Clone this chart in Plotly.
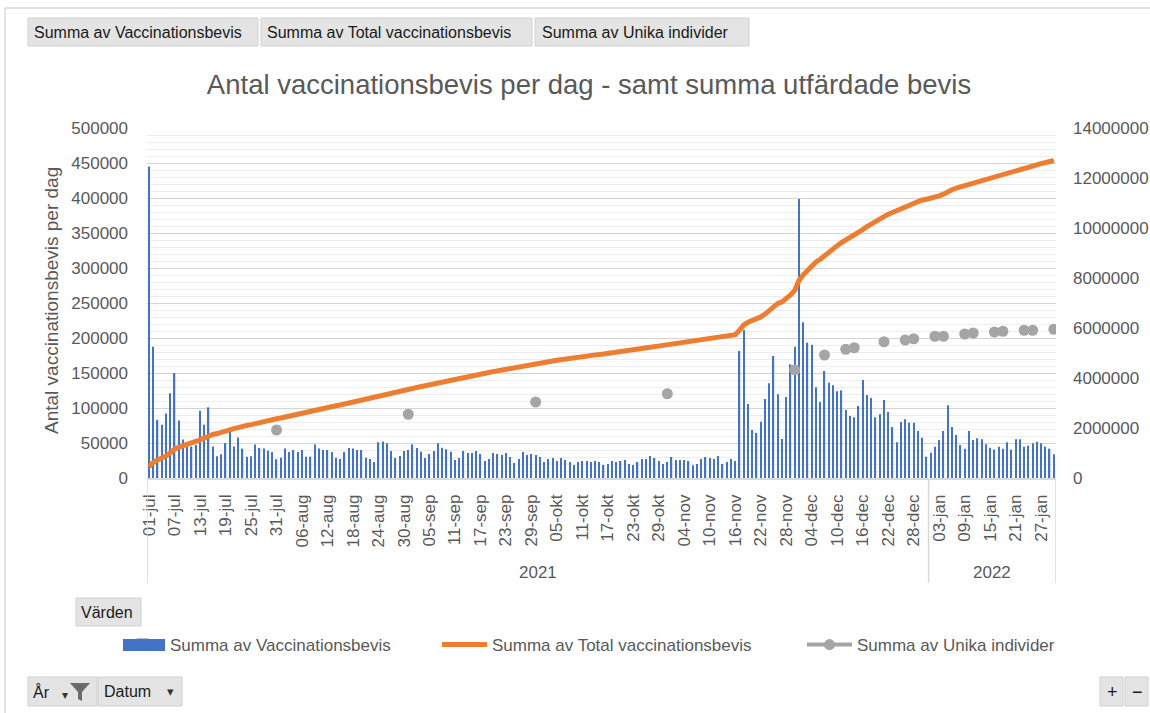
import pandas as pd
import plotly.graph_objects as go

# ---------------- data ----------------
sv_months = {1: "jan", 7: "jul", 8: "aug", 9: "sep", 10: "okt", 11: "nov", 12: "dec"}
day_index = pd.date_range("2021-07-01", "2022-01-30", freq="D")
dates = [f"{d.day:02d}-{sv_months[d.month]}" for d in day_index]
years = [str(d.year) for d in day_index]

vaccinationsbevis = [
    445000, 187500, 83000, 76000, 92000, 121000, 150000, 82000, 55000, 45000,
    45000, 47000, 96000, 76000, 101000, 45000, 31000, 34000, 50000, 66000,
    45000, 58000, 42000, 30500, 31000, 48000, 43000, 42000, 39000, 37000,
    27000, 29000, 42000, 37000, 40000, 37000, 40000, 30500, 30500, 48000,
    42000, 40000, 40000, 37000, 29000, 27000, 37000, 43000, 42000, 40000,
    40000, 29000, 27000, 23000, 51000,
    52000, 49500, 38600, 28600, 31400, 38600, 40000, 48000, 43000, 37600,
    28600, 34300, 38600, 49500, 43300, 41000, 37600, 25700, 28600, 38600,
    35700, 35700, 38600, 34300, 24300, 27100, 35700, 34300, 32900, 35700,
    30000, 21400, 27100, 37100, 32900, 34300, 32900, 30000, 22900, 27100,
    28600, 24300, 28600, 25700, 22900, 18600, 22900, 24300, 24300, 22900,
    24300, 22900, 18600, 20000, 24300, 22900, 24300, 25700, 20000, 18600,
    22900, 27100, 27100, 31400, 28600, 24300, 20000, 22900, 30000, 25700,
    25700, 25700, 24300, 18100, 20000, 27100, 30000, 28600, 27100, 31400,
    20000, 22900, 27100, 24300, 181400, 211400, 105700, 68600, 64300, 80500,
    112900, 135200, 174300, 119500, 55700, 115700, 162400, 187600, 398600, 222400,
    193300, 190500, 129500, 108600, 152900, 136200, 132400, 123800, 125200, 97100,
    88600, 86700, 102900, 140000, 118600, 114300, 86700, 91000, 111400, 94300,
    72900, 51000, 80000, 83800, 79000, 79000, 67100, 57600, 30500, 36200,
    44800, 54300, 67100, 103800, 72900, 61400, 47100, 41900, 67100, 54300,
    56700, 55200, 48100, 43300, 40500, 44800, 41900, 51000, 40500, 55200,
    55200, 44800, 46200, 49500, 51900, 49500, 44800, 41900, 33800,
]

total_vaccinationsbevis = [
    445000, 632500, 715500, 791500, 883500, 1004500, 1154500, 1236500, 1291500, 1336500,
    1381500, 1428500, 1524500, 1600500, 1701500, 1746500, 1777500, 1811500, 1861500, 1927500,
    1972500, 2030500, 2072500, 2103000, 2134000, 2182000, 2225000, 2267000, 2306000, 2343000,
    2370000, 2399000, 2441000, 2478000, 2518000, 2555000, 2595000, 2625500, 2656000, 2704000,
    2746000, 2786000, 2826000, 2863000, 2892000, 2919000, 2956000, 2999000, 3041000, 3081000,
    3121000, 3150000, 3177000, 3200000, 3251000,
    3303000, 3352500, 3391100, 3419700, 3451100, 3489700, 3529700, 3577700, 3620700, 3658300,
    3686900, 3721200, 3759800, 3809300, 3852600, 3893600, 3931200, 3956900, 3985500, 4024100,
    4059800, 4095500, 4134100, 4168400, 4192700, 4219800, 4255500, 4289800, 4322700, 4358400,
    4388400, 4409800, 4436900, 4474000, 4506900, 4541200, 4574100, 4604100, 4627000, 4654100,
    4682700, 4707000, 4735600, 4761300, 4784200, 4802800, 4825700, 4850000, 4874300, 4897200,
    4921500, 4944400, 4963000, 4983000, 5007300, 5030200, 5054500, 5080200, 5100200, 5118800,
    5141700, 5168800, 5195900, 5227300, 5255900, 5280200, 5300200, 5323100, 5353100, 5378800,
    5404500, 5430200, 5454500, 5472600, 5492600, 5519700, 5549700, 5578300, 5605400, 5636800,
    5656800, 5679700, 5706800, 5731100, 5912500, 6123900, 6229600, 6298200, 6362500, 6443000,
    6555900, 6691100, 6865400, 6984900, 7040600, 7156300, 7318700, 7506300, 7904900, 8127300,
    8320600, 8511100, 8640600, 8749200, 8902100, 9038300, 9170700, 9294500, 9419700, 9516800,
    9605400, 9692100, 9795000, 9935000, 10053600, 10167900, 10254600, 10345600, 10457000, 10551300,
    10624200, 10675200, 10755200, 10839000, 10918000, 10997000, 11064100, 11121700, 11152200, 11188400,
    11233200, 11287500, 11354600, 11458400, 11531300, 11592700, 11639800, 11681700, 11748800, 11803100,
    11859800, 11915000, 11963100, 12006400, 12046900, 12091700, 12133600, 12184600, 12225100, 12280300,
    12335500, 12380300, 12426500, 12476000, 12527900, 12577400, 12622200, 12664100, 12697900,
]

unika_dates = ["31-jul", "31-aug", "30-sep", "31-okt", "30-nov", "07-dec", "12-dec", "14-dec",
               "21-dec", "26-dec", "28-dec", "02-jan", "04-jan", "09-jan", "11-jan", "16-jan",
               "18-jan", "23-jan", "25-jan", "30-jan"]
unika_values = [1920000, 2550000, 3040000, 3370000, 4330000, 4920000, 5150000, 5210000,
                5450000, 5520000, 5570000, 5670000, 5670000, 5760000, 5800000, 5840000,
                5870000, 5910000, 5910000, 5950000]

left_ticks = [0, 50000, 100000, 150000, 200000, 250000, 300000, 350000, 400000, 450000, 500000]
right_ticks = [0, 2000000, 4000000, 6000000, 8000000, 10000000, 12000000, 14000000]
x_tick_labels = dates[::6]

# ---------------- styling helpers ----------------
W, H = 1150, 713
L, R, T, B = 147, 1056, 128, 478
FONT = "Liberation Sans, Arial, sans-serif"
GREY = "#595959"
BLUE = "#4472C4"


def px(x):
    return (x - L) / (R - L)


def py(y):
    return (B - y) / (B - T)


unika_map = dict(zip(unika_dates, unika_values))
unika_series = [unika_map.get(d) for d in dates]

fig = go.Figure()
fig.add_trace(go.Bar(
    x=dates, y=vaccinationsbevis, name="Summa av Vaccinationsbevis",
    marker=dict(color=BLUE, line=dict(width=0)), legend="legend2", showlegend=True,
))
fig.add_trace(go.Scatter(
    x=dates, y=total_vaccinationsbevis, name="Summa av Total vaccinationsbevis",
    mode="lines", line=dict(color="#ED7D31", width=5), yaxis="y2", legend="legend3", showlegend=True,
))
fig.add_trace(go.Scatter(
    x=dates, y=unika_series, name="Summa av Unika individer",
    mode="lines+markers", connectgaps=False,
    line=dict(color="#A5A5A5", width=4), marker=dict(color="#A5A5A5", size=11),
    yaxis="y2", legend="legend4", showlegend=True,
))

shapes = []
annotations = []

# chart border (top and left)
shapes.append(dict(type="line", xref="paper", yref="paper", x0=px(5), x1=px(1150), y0=py(8), y1=py(8),
                   line=dict(color="#d9d9d9", width=1.5)))
shapes.append(dict(type="line", xref="paper", yref="paper", x0=px(5), x1=px(5), y0=py(8), y1=py(713),
                   line=dict(color="#d9d9d9", width=1.5)))


def button(x0, y0, x1, y1, text=None, tx=None, size=16):
    shapes.append(dict(type="rect", xref="paper", yref="paper", x0=px(x0), x1=px(x1), y0=py(y1), y1=py(y0),
                       fillcolor="#e4e4e4", line=dict(color="#d0d0d0", width=1), layer="above"))
    if text is not None:
        annotations.append(dict(xref="paper", yref="paper", x=px(tx), y=py((y0 + y1) / 2), text=text,
                                showarrow=False, xanchor="left", yanchor="middle",
                                font=dict(family=FONT, size=size, color="#1a1a1a")))


button(28, 18, 258, 46, "Summa av Vaccinationsbevis", 32)
button(261, 18, 532, 46, "Summa av Total vaccinationsbevis", 265)
button(535, 18, 749, 46, "Summa av Unika individer", 540)
button(76, 598, 141, 626, "Värden", 79)
button(28, 677, 97, 706, "År", 31)
button(98, 677, 182, 706, "Datum", 102)
button(1100, 677, 1123, 706, "+", 1105, 18)
button(1125, 677, 1148, 706, "−", 1130, 18)
# small dropdown arrows and funnel
annotations.append(dict(xref="paper", yref="paper", x=px(60), y=py(695), text="▾", showarrow=False,
                        xanchor="left", yanchor="middle", font=dict(family=FONT, size=12, color="#333")))
shapes.append(dict(type="path", xref="paper", yref="paper",
                   path=f"M {px(70)},{py(683)} L {px(90)},{py(683)} L {px(82)},{py(692)} L {px(82)},{py(701)} "
                        f"L {px(78)},{py(699)} L {px(78)},{py(692)} Z",
                   fillcolor="#6b6b6b", line=dict(width=0), layer="above"))
annotations.append(dict(xref="paper", yref="paper", x=px(165), y=py(691), text="▾", showarrow=False,
                        xanchor="left", yanchor="middle", font=dict(family=FONT, size=13, color="#333")))

# wide legend key for the bar series (Excel style)
shapes.append(dict(type="rect", xref="paper", yref="paper", x0=px(123), x1=px(165), y0=py(651), y1=py(639),
                   fillcolor=BLUE, line=dict(width=0), layer="above"))

# year level of the category axis
first_2022 = years.index("2022")
n = len(dates)
for xb in [-0.5, first_2022 - 0.5, n - 0.5]:
    shapes.append(dict(type="line", xref="x", yref="paper", x0=xb, x1=xb, y0=0, y1=py(583),
                       line=dict(color="#d9d9d9", width=1.5)))
for yr, a, b in [("2021", 0, first_2022 - 1), ("2022", first_2022, n - 1)]:
    annotations.append(dict(xref="x", yref="paper", x=(a + b) / 2, y=py(572), text=yr, showarrow=False,
                            xanchor="center", yanchor="middle", font=dict(family=FONT, size=17, color=GREY)))

# y axis title
annotations.append(dict(xref="paper", yref="paper", x=px(51), y=py(301), text="Antal vaccinationsbevis per dag",
                        textangle=-90, showarrow=False, xanchor="center", yanchor="middle",
                        font=dict(family=FONT, size=19, color=GREY)))

legend_common = dict(orientation="h", xref="paper", yref="paper", yanchor="middle", xanchor="left",
                     bgcolor="rgba(0,0,0,0)", font=dict(family=FONT, size=17, color=GREY),
                     itemclick=False, itemdoubleclick=False, visible=True, itemwidth=45)

fig.update_layout(
    width=W, height=H,
    margin=dict(l=L, r=W - R, t=T, b=H - B, pad=0, autoexpand=False),
    paper_bgcolor="white", plot_bgcolor="white",
    bargap=0.7,
    showlegend=True,
    title=dict(text="Antal vaccinationsbevis per dag - samt summa utfärdade bevis",
               x=px(589), xanchor="center", xref="paper", y=1 - 84 / H, yanchor="middle",
               font=dict(family=FONT, size=27.5, color=GREY)),
    xaxis=dict(type="category", categoryorder="array", categoryarray=dates,
               range=[-0.5, n - 0.5], tickmode="array", tickvals=x_tick_labels, ticktext=x_tick_labels,
               tickangle=-90, tickfont=dict(family=FONT, size=17, color=GREY),
               showgrid=False, showline=True, linecolor="#d9d9d9", linewidth=1.5,
               ticks="", ticklabelstandoff=8, zeroline=False, fixedrange=True),
    yaxis=dict(range=[0, 500000], tickmode="array", tickvals=left_ticks, tickformat="d",
               tickfont=dict(family=FONT, size=17, color=GREY),
               showgrid=True, gridcolor="#d4d4d4", gridwidth=1.2,
               minor=dict(dtick=10000, showgrid=True, gridcolor="#ededed", gridwidth=1),
               zeroline=False, showline=False, ticks="", ticklabelstandoff=18, fixedrange=True),
    yaxis2=dict(range=[0, 14000000], tickmode="array", tickvals=right_ticks, tickformat="d",
                overlaying="y", side="right", showgrid=False, zeroline=False, showline=False,
                tickfont=dict(family=FONT, size=17, color=GREY), ticks="", ticklabelstandoff=16,
                fixedrange=True),
    legend=dict(visible=False),
    legend2=dict(x=px(115), y=py(645), **legend_common),
    legend3=dict(x=px(437), y=py(645), **legend_common),
    legend4=dict(x=px(802), y=py(645), **legend_common),
    shapes=shapes, annotations=annotations,
    font=dict(family=FONT, color=GREY),
)

fig.write_html("out.html", config={"displayModeBar": False},
               post_script="document.body.style.margin='0';document.body.style.padding='0';")
